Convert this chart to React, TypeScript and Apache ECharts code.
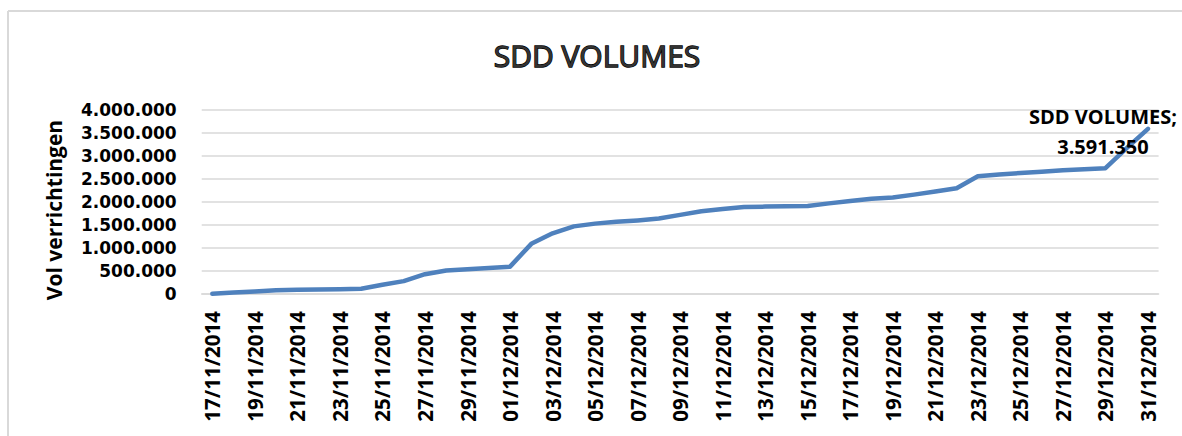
import React, { useEffect, useRef } from "react";
import * as echarts from "echarts";

const dates = [
  "17/11/2014","18/11/2014","19/11/2014","20/11/2014","21/11/2014","22/11/2014","23/11/2014","24/11/2014",
  "25/11/2014","26/11/2014","27/11/2014","28/11/2014","29/11/2014","30/11/2014","01/12/2014","02/12/2014",
  "03/12/2014","04/12/2014","05/12/2014","06/12/2014","07/12/2014","08/12/2014","09/12/2014","10/12/2014",
  "11/12/2014","12/12/2014","13/12/2014","14/12/2014","15/12/2014","16/12/2014","17/12/2014","18/12/2014",
  "19/12/2014","20/12/2014","21/12/2014","22/12/2014","23/12/2014","24/12/2014","25/12/2014","26/12/2014",
  "27/12/2014","28/12/2014","29/12/2014","30/12/2014","31/12/2014"
];

const volumes = [
  5000, 30000, 55000, 80000, 95000, 100000, 105000, 115000,
  200000, 280000, 430000, 510000, 540000, 565000, 595000, 1090000,
  1320000, 1470000, 1530000, 1570000, 1600000, 1640000, 1720000, 1800000,
  1850000, 1890000, 1900000, 1905000, 1915000, 1970000, 2020000, 2070000,
  2100000, 2160000, 2230000, 2300000, 2560000, 2600000, 2630000, 2660000,
  2690000, 2710000, 2735000, 3170000, 3591350
];

const seriesName = "SDD VOLUMES";
const chartTitle = "SDD VOLUMES";
const yAxisTitle = "Vol verrichtingen";

const fmt = (v: number) => String(Math.round(v)).replace(/\B(?=(\d{3})+(?!\d))/g, ".");

export default function App() {
  const ref = useRef<HTMLDivElement>(null);
  useEffect(() => {
    document.body.style.margin = "0";
    const chart = echarts.init(ref.current!, null, { renderer: "svg" });
    const last = volumes.length - 1;
    chart.setOption({
      animation: false,
      backgroundColor: "#ffffff",
      grid: { left: 201.7, right: 23.4, top: 110, bottom: 142, containLabel: false },
      graphic: [
        { type: "line", shape: { x1: 8, y1: 11, x2: 1182, y2: 11 }, style: { stroke: "#d9d9d9", lineWidth: 2 } },
        { type: "line", shape: { x1: 8, y1: 11, x2: 8, y2: 436 }, style: { stroke: "#d9d9d9", lineWidth: 2 } },
        {
          type: "text", x: 597, y: 55,
          style: {
            text: chartTitle, fontFamily: "Open Sans", fontSize: 30, fontWeight: "normal",
            fill: "#333333", stroke: "#000000", lineWidth: 1.3,
            align: "center", verticalAlign: "middle"
          }
        },
        {
          type: "text", x: 54, y: 210, rotation: Math.PI / 2,
          style: {
            text: yAxisTitle, fontFamily: "Open Sans", fontSize: 21, fontWeight: "bold",
            fill: "#000000", align: "center", verticalAlign: "middle"
          }
        }
      ],
      xAxis: {
        type: "category",
        data: dates,
        boundaryGap: true,
        axisLine: { show: true, lineStyle: { color: "#d9d9d9", width: 1.5 } },
        axisTick: { show: false },
        axisLabel: {
          interval: 1, rotate: 90, margin: 17,
          fontFamily: "Open Sans", fontSize: 20.5, fontWeight: "bold", color: "#000000",
          lineHeight: 22
        }
      },
      yAxis: {
        type: "value",
        min: 0, max: 4000000, interval: 500000,
        axisLine: { show: false },
        axisTick: { show: false },
        splitLine: { lineStyle: { color: "#d9d9d9", width: 1.5 } },
        axisLabel: {
          margin: 25,
          fontFamily: "DejaVu Sans", fontSize: 17, fontWeight: "bold", color: "#000000",
          lineHeight: 19,
          formatter: (v: number) => fmt(v)
        }
      },
      series: [
        {
          name: seriesName,
          type: "line",
          data: volumes.map((v, i) =>
            i === last
              ? {
                  value: v,
                  label: {
                    show: true,
                    position: "inside",
                    offset: [-45, 3],
                    formatter: () => seriesName + ";\n" + fmt(v),
                    fontFamily: "Open Sans", fontSize: 20, fontWeight: "bold", color: "#000000",
                    lineHeight: 30, align: "center", verticalAlign: "middle"
                  }
                }
              : v
          ),
          symbol: "circle",
          symbolSize: 0.1,
          showSymbol: true,
          itemStyle: { color: "rgba(0,0,0,0)" },
          lineStyle: { color: "#4f81bd", width: 4.5, cap: "round", join: "round" },
          z: 3
        }
      ]
    });
    return () => chart.dispose();
  }, []);
  return <div ref={ref} style={{ width: 1182, height: 436 }} />;
}
